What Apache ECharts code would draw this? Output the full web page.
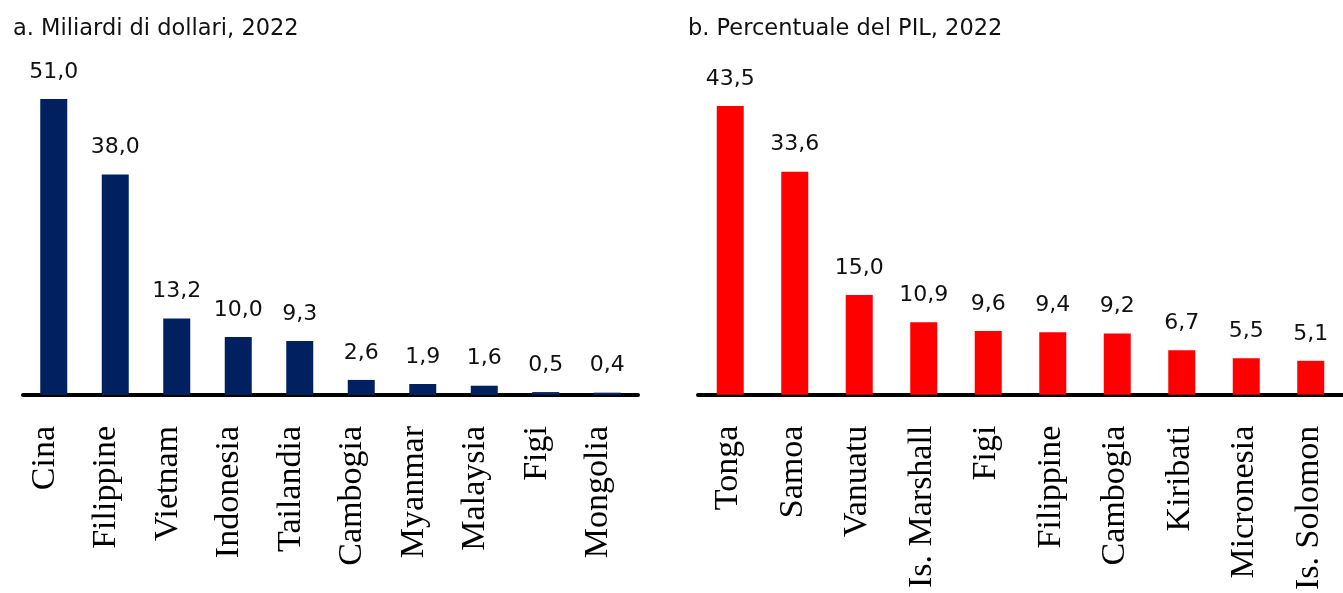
<!DOCTYPE html>
<html>
<head>
<meta charset="utf-8">
<script src="https://cdn.jsdelivr.net/npm/echarts@6/dist/echarts.min.js"></script>
<style>
  html, body { margin: 0; padding: 0; background: #fff; }
  #chart { width: 1343px; height: 593px; }
</style>
</head>
<body>
<div id="chart"></div>
<script>
const leftTitle = 'a. Miliardi di dollari, 2022';
const leftCategories = ['Cina', 'Filippine', 'Vietnam', 'Indonesia', 'Tailandia', 'Cambogia', 'Myanmar', 'Malaysia', 'Figi', 'Mongolia'];
const leftValues = [51.0, 38.0, 13.2, 10.0, 9.3, 2.6, 1.9, 1.6, 0.5, 0.4];

const rightTitle = 'b. Percentuale del PIL, 2022';
const rightCategories = ['Tonga', 'Samoa', 'Vanuatu', 'Is. Marshall', 'Figi', 'Filippine', 'Cambogia', 'Kiribati', 'Micronesia', 'Is. Solomon'];
const rightValues = [43.5, 33.6, 15.0, 10.9, 9.6, 9.4, 9.2, 6.7, 5.5, 5.1];

const chart = echarts.init(document.getElementById('chart'));

const fmt = p => p.value.toFixed(1).replace('.', ',');

// lh shifts the rotated labels sideways relative to the bar
const catAxis = (gridIndex, data, lh) => ({
  type: 'category',
  gridIndex,
  data,
  axisTick: { show: false },
  axisLine: { lineStyle: { color: '#000', width: 4 } },
  axisLabel: {
    rotate: 90,
    interval: 0,
    margin: 31,
    color: '#000',
    fontFamily: 'Liberation Serif',
    fontSize: 34,
    lineHeight: lh,
    verticalAlign: 'bottom'
  }
});

const valAxis = (gridIndex, max) => ({
  type: 'value',
  gridIndex,
  min: 0,
  max,
  show: false
});

const barSeries = (idx, data, color) => ({
  type: 'bar',
  xAxisIndex: idx,
  yAxisIndex: idx,
  data,
  barWidth: 27,
  itemStyle: { color },
  label: {
    show: true,
    position: 'top',
    distance: 16,
    formatter: fmt,
    color: '#111',
    fontFamily: 'DejaVu Sans',
    fontSize: 22
  }
});

const titleStyle = { fontFamily: 'DejaVu Sans', fontSize: 22.5, fontWeight: 'normal', color: '#111' };

const option = {
  animation: false,
  title: [
    { text: leftTitle, left: 8, top: 13, textStyle: titleStyle },
    { text: rightTitle, left: 683, top: 13, textStyle: titleStyle }
  ],
  grid: [
    { left: 23, width: 615, top: 99, bottom: 198 },
    { left: 698, width: 652, top: 106, bottom: 198 }
  ],
  xAxis: [catAxis(0, leftCategories, 18), catAxis(1, rightCategories, 4)],
  yAxis: [valAxis(0, 51), valAxis(1, 43.5)],
  series: [
    barSeries(0, leftValues, '#002060'),
    barSeries(1, rightValues, '#ff0000')
  ]
};

chart.setOption(option);
window.addEventListener('resize', () => chart.resize());
</script>
</body>
</html>
